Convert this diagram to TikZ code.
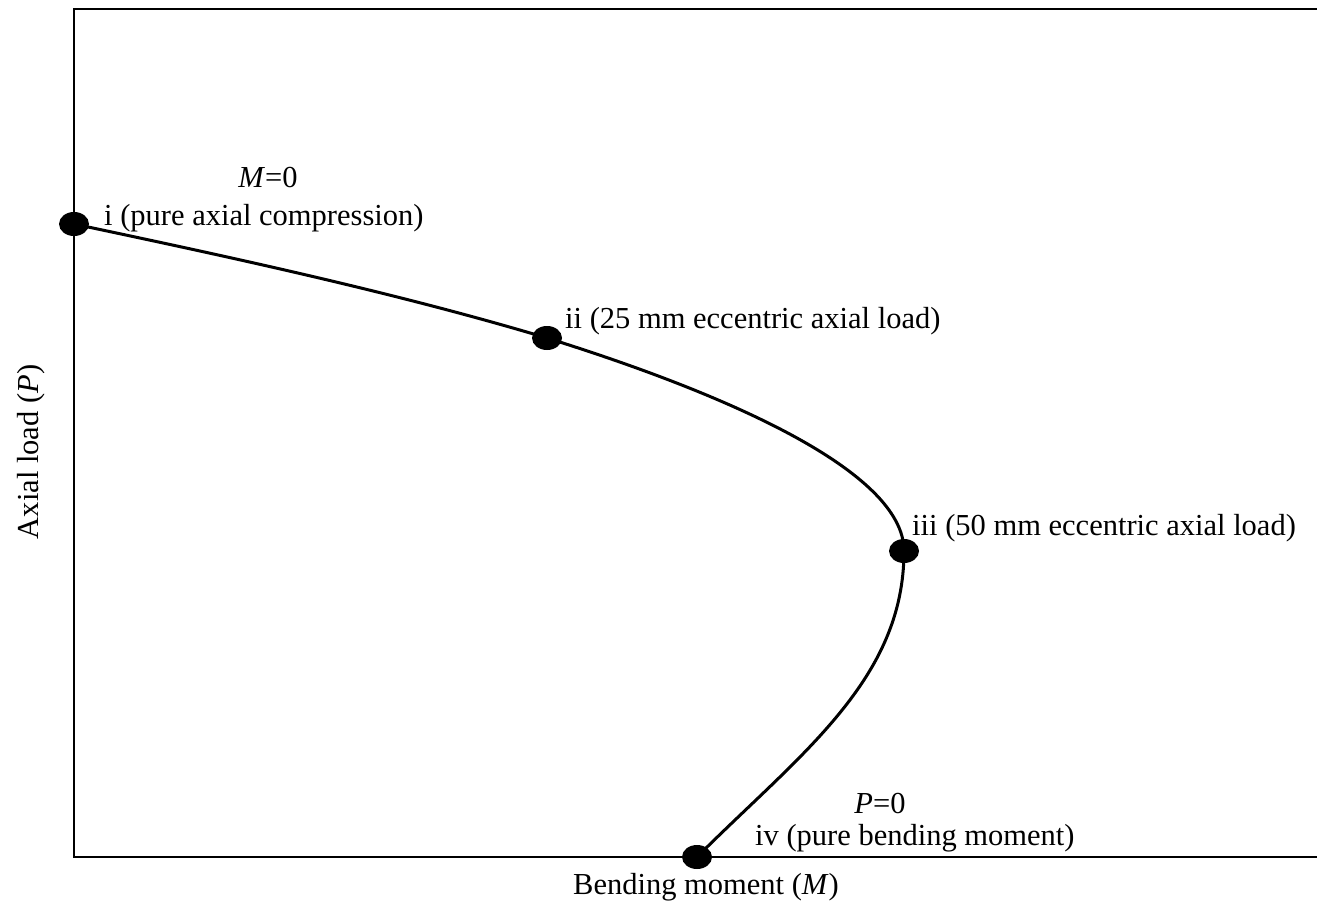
\documentclass[tikz,border=0pt]{standalone}
\usepackage{fontspec}
\setmainfont{Liberation Serif}
\usetikzlibrary{shapes.geometric}

\begin{document}
\begin{tikzpicture}[x=1pt, y=-1pt,
    pt/.style={ellipse, fill=black, minimum width=30pt, minimum height=24pt, inner sep=0pt},
    lbl/.style={inner sep=0pt, font=\fontsize{30.5}{36}\selectfont}]
    \useasboundingbox (0,0) rectangle (1317,908);

    % Axes
    \draw[line width=2.4pt] (1317,9) -- (74,9) -- (74,857) -- (1317,857);
    \node[lbl, anchor=base] (xlab) at (706,894) {Bending moment (\textit{M})};
    \node[lbl, anchor=base, rotate=90] (ylab) at (38,452) {Axial load (\textit{P})};

    % Points on the interaction curve
    \node[pt] (i) at (74,224) {};
    \node[pt] (ii) at (547,338) {};
    \node[pt] (iii) at (904,551) {};
    \node[pt] (iv) at (697,857) {};

    % Interaction curve
    \draw[line width=3pt] (i.center) .. controls (230,257) and (397,293) .. (ii.center)
        .. controls (720,392) and (904,470) .. (iii.center)
        .. controls (904,680) and (800,754) .. (iv.center);

    % Labels
    \node[lbl, anchor=base] (m0) at (268,187) {\textit{M}=0};
    \node[lbl, anchor=base west] (li) at (104,225) {i (pure axial compression)};
    \node[lbl, anchor=base west] (lii) at (565,328) {ii (25 mm eccentric axial load)};
    \node[lbl, anchor=base west] (liii) at (912,535) {iii (50 mm eccentric axial load)};
    \node[lbl, anchor=base] (p0) at (880,813) {\textit{P}=0};
    \node[lbl, anchor=base west] (liv) at (755,845) {iv (pure bending moment)};
\end{tikzpicture}
\end{document}
